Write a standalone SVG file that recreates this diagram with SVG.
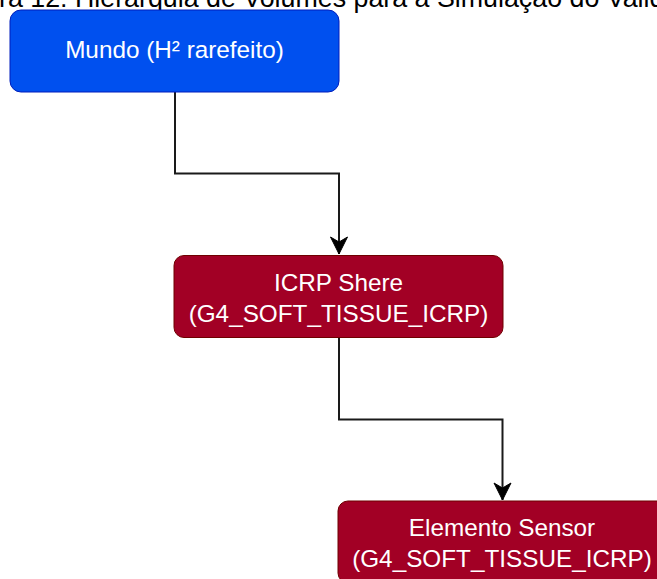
<svg xmlns="http://www.w3.org/2000/svg" width="657" height="579" viewBox="0 0 657 579">
  <defs>
    <style>
      .title { font-family: "Liberation Sans", Arial, sans-serif; font-size: 26.8px; fill: #000000; }
      .label { font-family: "Liberation Sans", Arial, sans-serif; font-size: 24.3px; fill: #ffffff; text-anchor: middle; }
      .blue { fill: #0050ef; stroke: #001dbc; stroke-width: 1; }
      .red { fill: #a20025; stroke: #6f0000; stroke-width: 1; }
      .edge { fill: none; stroke: #1a1a1a; stroke-width: 2; }
    </style>
    <marker id="arrow" viewBox="0 0 20 20" refX="18" refY="10" markerWidth="20" markerHeight="20" markerUnits="userSpaceOnUse" orient="auto">
      <path d="M18,10 L1,1.5 L6,10 L1,18.5 Z" fill="#000000" stroke="#000000" stroke-width="1"/>
    </marker>
  </defs>
  <rect width="657" height="579" fill="#ffffff"/>
  <text class="title" x="-1" y="7">ra 12: Hierarquia de Volumes para a Simulação do Valid</text>
  <g id="connectors">
    <path class="edge" d="M175,92 L175,173.5 L339,173.5 L339,254" marker-end="url(#arrow)"/>
    <path class="edge" d="M339,338 L339,419.5 L502.5,419.5 L502.5,500" marker-end="url(#arrow)"/>
  </g>
  <g id="mundo">
    <rect class="blue" x="10" y="10" width="329" height="82" rx="11" ry="11"/>
    <text class="label" x="174.5" y="58">Mundo (H² rarefeito)</text>
  </g>
  <g id="icrp-sphere">
    <rect class="red" x="174" y="255.5" width="329" height="82" rx="10" ry="10"/>
    <text class="label" x="338.5" y="291">ICRP Shere</text>
    <text class="label" x="338.5" y="322">(G4_SOFT_TISSUE_ICRP)</text>
  </g>
  <g id="elemento-sensor">
    <rect class="red" x="338" y="501" width="329" height="82" rx="10" ry="10"/>
    <text class="label" x="502" y="536">Elemento Sensor</text>
    <text class="label" x="502" y="567">(G4_SOFT_TISSUE_ICRP)</text>
  </g>
</svg>
